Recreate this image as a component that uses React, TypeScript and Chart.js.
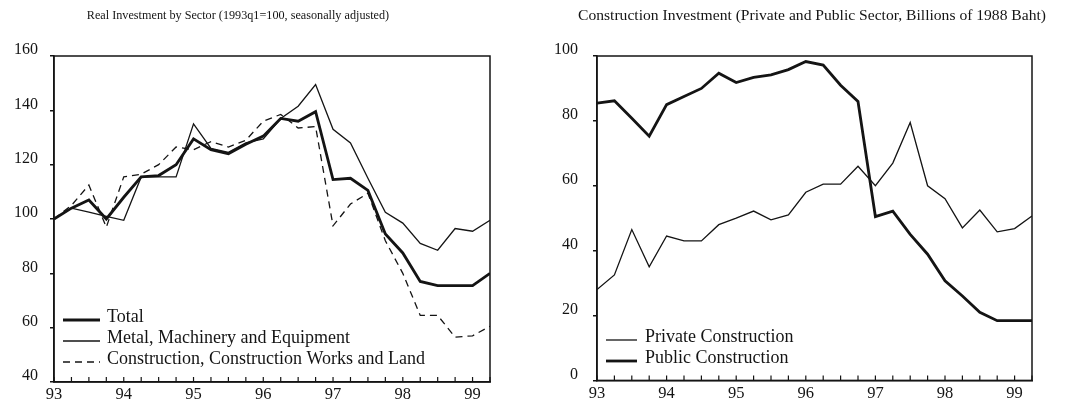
import React, { useEffect, useRef } from 'react';
import { Chart, registerables } from 'chart.js';

Chart.register(...registerables);

// ---------- data ----------
const quarters = [
  '93q1', '93q2', '93q3', '93q4', '94q1', '94q2', '94q3', '94q4',
  '95q1', '95q2', '95q3', '95q4', '96q1', '96q2', '96q3', '96q4',
  '97q1', '97q2', '97q3', '97q4', '98q1', '98q2', '98q3', '98q4',
  '99q1', '99q2',
];

const totalInvestment = [
  100, 104, 107, 100, 108, 115.5, 116, 120, 129.5, 125.5, 124, 127.5, 130.5,
  137, 136, 139.5, 114.5, 115, 110.5, 94.5, 87.5, 77, 75.5, 75.5, 75.5, 80,
];
const metalMachinery = [
  100, 104, 102.5, 101, 99.5, 115.5, 115.5, 115.5, 135, 126, 124.5, 128, 129.5,
  137, 141.5, 149.5, 133, 128, 115, 102.5, 98.5, 91, 88.5, 96.5, 95.5, 99.5,
];
const constructionLand = [
  100, 105, 112.5, 97, 115.5, 116.5, 120, 126.5, 125.5, 128.5, 126.5, 129, 136,
  138.5, 133.5, 134, 97.5, 105.5, 109.5, 92, 80, 64.5, 64.5, 56.5, 57, 60.5,
];

const privateConstruction = [
  28, 32.5, 46.5, 35, 44.5, 43, 43, 48, 50, 52.2, 49.5, 51, 58,
  60.5, 60.5, 66, 60, 67, 79.5, 60, 56, 47, 52.5, 45.8, 46.8, 50.7,
];
const publicConstruction = [
  85.5, 86.2, 80.8, 75.3, 85, 87.5, 90, 94.7, 91.8, 93.4, 94.2, 95.8, 98.3,
  97.2, 91, 86, 50.5, 52.2, 45, 38.9, 30.7, 26, 21, 18.4, 18.4, 18.4,
];

const yearTicks = [93, 94, 95, 96, 97, 98, 99];
const leftTitle = 'Real Investment by Sector (1993q1=100, seasonally adjusted)';
const rightTitle = 'Construction Investment (Private and Public Sector, Billions of 1988 Baht)';
const leftYTicks = [40, 60, 80, 100, 120, 140, 160];
const rightYTicks = [0, 20, 40, 60, 80, 100];

// ---------- helpers ----------
const INK = '#141414';
const FONT = "'Liberation Serif', 'Times New Roman', serif";

function quarterToX(q: string): number {
  const yr = parseInt(q.slice(0, 2), 10);
  const qq = parseInt(q.slice(3), 10);
  return yr + (qq - 1) / 4;
}

function toPoints(values: number[]) {
  return values.map((v, i) => ({ x: quarterToX(quarters[i]), y: v }));
}

type LegendSpec = {
  x0: number;
  x1: number;
  textX: number;
  rows: number[];
};

type ChartSpec = {
  width: number;
  left: number;
  yWidth: number;
  padRight: number;
  yTicks: number[];
  yPad: number;
  title: string;
  titleX: number;
  titleSize: number;
  legend: LegendSpec;
  datasets: any[];
};

const framePlugin = {
  id: 'frame',
  afterDraw(chart: any) {
    const { ctx, chartArea } = chart;
    const xs = chart.scales.x;
    ctx.save();
    ctx.strokeStyle = INK;
    ctx.lineWidth = 1.5;
    ctx.strokeRect(chartArea.left, chartArea.top, chartArea.right - chartArea.left, chartArea.bottom - chartArea.top);
    // inward quarterly tick marks on bottom axis
    ctx.lineWidth = 1.2;
    quarters.forEach((q) => {
      const px = xs.getPixelForValue(quarterToX(q));
      ctx.beginPath();
      ctx.moveTo(px, chartArea.bottom);
      ctx.lineTo(px, chartArea.bottom - 5);
      ctx.stroke();
    });
    ctx.restore();
  },
};

const textPlugin = {
  id: 'texts',
  afterDraw(chart: any, _args: any, opts: any) {
    const { ctx } = chart;
    ctx.save();
    ctx.fillStyle = INK;
    ctx.textBaseline = 'middle';
    ctx.textAlign = 'center';
    ctx.font = `${opts.titleSize}px ${FONT}`;
    ctx.fillText(opts.title, opts.titleX, 16);

    const lg: LegendSpec = opts.legend;
    ctx.textAlign = 'left';
    ctx.font = `18px ${FONT}`;
    chart.data.datasets.forEach((ds: any, i: number) => {
      const y = lg.rows[i];
      ctx.save();
      ctx.strokeStyle = ds.borderColor;
      ctx.lineWidth = ds.borderWidth;
      ctx.setLineDash(ds.borderDash || []);
      ctx.beginPath();
      ctx.moveTo(lg.x0, y + 3);
      ctx.lineTo(lg.x1, y + 3);
      ctx.stroke();
      ctx.restore();
      ctx.fillText(ds.label, lg.textX, y);
    });
    ctx.restore();
  },
};

function LineChart({ spec }: { spec: ChartSpec }) {
  const ref = useRef<HTMLCanvasElement | null>(null);
  useEffect(() => {
    if (!ref.current) return;
    const chart = new Chart(ref.current, {
      type: 'line',
      data: { datasets: spec.datasets },
      plugins: [framePlugin, textPlugin],
      options: {
        responsive: false,
        animation: false,
        layout: { padding: { top: 56, right: spec.padRight, left: 0, bottom: 0 } },
        elements: { point: { radius: 0 }, line: { tension: 0 } },
        plugins: {
          legend: { display: false },
          title: { display: false },
          tooltip: { enabled: false },
          texts: {
            title: spec.title,
            titleX: spec.titleX,
            titleSize: spec.titleSize,
            legend: spec.legend,
          },
        } as any,
        scales: {
          x: {
            type: 'linear',
            min: 93,
            max: 99.25,
            afterBuildTicks: (s: any) => {
              s.ticks = yearTicks.map((v) => ({ value: v }));
            },
            afterFit: (s: any) => {
              s.height = 23;
            },
            grid: { display: false, drawTicks: false },
            border: { display: true, color: INK, width: 1.5 },
            ticks: {
              font: { family: FONT, size: 16.5 },
              color: INK,
              padding: 3,
              maxRotation: 0,
              autoSkip: false,
              callback: (v: any) => String(v),
            },
          },
          y: {
            type: 'linear',
            min: spec.yTicks[0],
            max: spec.yTicks[spec.yTicks.length - 1],
            afterBuildTicks: (s: any) => {
              s.ticks = spec.yTicks.map((v) => ({ value: v }));
            },
            afterFit: (s: any) => {
              s.width = spec.yWidth;
            },
            grid: { drawOnChartArea: false, drawTicks: true, tickLength: 4, color: INK, lineWidth: 1.5 },
            border: { display: true, color: INK, width: 1.5 },
            ticks: {
              font: { family: FONT, size: 16 },
              color: INK,
              padding: spec.yPad,
              labelOffset: -6,
              callback: (v: any) => String(v),
            },
          },
        },
      } as any,
    });
    return () => chart.destroy();
  }, [spec]);
  return (
    <canvas
      ref={ref}
      width={spec.width}
      height={405}
      style={{ position: 'absolute', left: spec.left, top: 0, width: spec.width, height: 405 }}
    />
  );
}

const leftSpec: ChartSpec = {
  width: 530,
  left: 0,
  yWidth: 54,
  padRight: 40,
  yTicks: leftYTicks,
  yPad: 12,
  title: leftTitle,
  titleX: 238,
  titleSize: 12.2,
  legend: { x0: 63, x1: 100, textX: 107, rows: [317, 338, 359] },
  datasets: [
    { label: 'Total', data: toPoints(totalInvestment), borderColor: INK, borderWidth: 2.8, fill: false },
    { label: 'Metal, Machinery and Equipment', data: toPoints(metalMachinery), borderColor: INK, borderWidth: 1.3, fill: false },
    {
      label: 'Construction, Construction Works and Land',
      data: toPoints(constructionLand),
      borderColor: INK,
      borderWidth: 1.3,
      borderDash: [7, 5],
      fill: false,
    },
  ],
};

const rightSpec: ChartSpec = {
  width: 535,
  left: 530,
  yWidth: 67,
  padRight: 33,
  yTicks: rightYTicks,
  yPad: 15,
  title: rightTitle,
  titleX: 282,
  titleSize: 15.6,
  legend: { x0: 76, x1: 107, textX: 115, rows: [337, 358] },
  datasets: [
    { label: 'Private Construction', data: toPoints(privateConstruction), borderColor: INK, borderWidth: 1.3, fill: false },
    { label: 'Public Construction', data: toPoints(publicConstruction), borderColor: INK, borderWidth: 2.8, fill: false },
  ],
};

export default function App() {
  return (
    <div style={{ position: 'absolute', left: 0, top: 0, width: 1065, height: 405, background: '#fff' }}>
      <LineChart spec={leftSpec} />
      <LineChart spec={rightSpec} />
    </div>
  );
}
